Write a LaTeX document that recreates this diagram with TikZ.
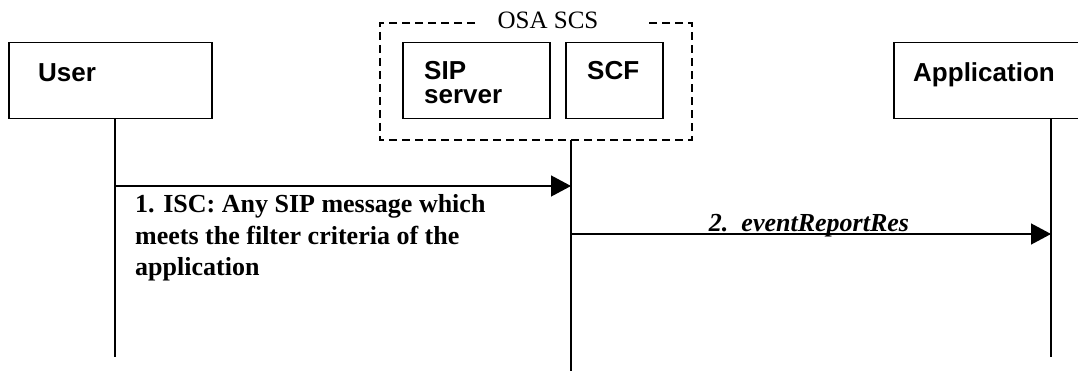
\documentclass[tikz,border=0pt]{standalone}
\usepackage{fontspec}
\setmainfont{Liberation Serif}
\newfontfamily\arialf{Liberation Sans}
\usetikzlibrary{arrows.meta}
\tikzset{
  entity/.style={draw, line width=1.5pt, minimum width=#1, minimum height=76pt, inner sep=0pt, anchor=north west},
  enttext/.style={font=\arialf\bfseries\fontsize{26}{22}\selectfont, inner sep=0pt, anchor=base west},
  msgtext/.style={font=\bfseries\fontsize{26}{31}\selectfont, inner sep=0pt, anchor=base west},
  lifeline/.style={line width=1.3pt},
  msg/.style={line width=1.3pt, -{Triangle[length=20pt, width=21pt]}},
  grp/.style={line width=2pt, dash pattern=on 8pt off 5pt},
}
\begin{document}
\begin{tikzpicture}[x=1pt,y=-1pt]
\useasboundingbox (0,0) rectangle (1078,371);
\clip (0,0) rectangle (1078,371);
% entity boxes
\node[entity=203pt] (user) at (8,42) {};
\node[enttext] (userT) at (38,82) {User};
\node[entity=147pt] (sip) at (402,42) {};
\node[enttext] (sipT1) at (424,80) {SIP};
\node[enttext] (sipT2) at (424,104) {server};
\node[entity=97pt] (scf) at (565,42) {};
\node[enttext] (scfT) at (587,80) {SCF};
\node[entity=220pt] (app) at (893,42) {};
\node[enttext] (appT) at (913,82) {Application};
% OSA SCS group
\coordinate (g1) at (475,23);
\coordinate (g2) at (380,23);
\coordinate (g3) at (380,140);
\coordinate (g4) at (692,140);
\coordinate (g5) at (692,23);
\coordinate (g6) at (647,23);
\draw[grp] (g1) -- (g2) -- (g3) -- (g4) -- (g5) -- (g6);
\node[font=\fontsize{25}{30}\selectfont, inner sep=0pt, anchor=base] (osa) at (548,29) {OSA SCS};
% lifelines
\coordinate (userEnd) at (115,357);
\coordinate (scfTop) at (571,140);
\coordinate (scfEnd) at (571,371);
\coordinate (appEnd) at (1051,357);
\draw[lifeline] (user.south -| userEnd) -- (userEnd);
\draw[lifeline] (scfTop) -- (scfEnd);
\draw[lifeline] (app.south -| appEnd) -- (appEnd);
% messages
\coordinate (m1s) at (115,186);
\coordinate (m1e) at (571,186);
\coordinate (m2s) at (571,234);
\coordinate (m2e) at (1051,234);
\draw[msg] (m1s) -- (m1e);
\draw[msg] (m2s) -- (m2e);
\node[msgtext] (l1a) at (135,213) {1. ISC: Any SIP message which};
\node[msgtext] (l1b) at (135,244) {meets the filter criteria of the};
\node[msgtext] (l1c) at (135,275) {application};
\node[font=\bfseries\itshape\fontsize{26}{31}\selectfont, inner sep=0pt, anchor=base] (l2) at (809,232) {2.\ \ eventReportRes};
\end{tikzpicture}
\end{document}
